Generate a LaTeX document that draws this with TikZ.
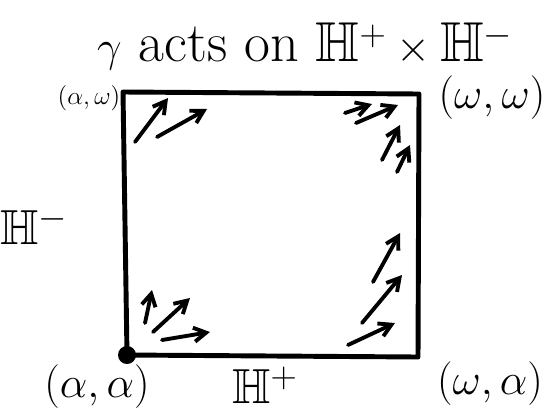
\documentclass[tikz,border=0pt]{standalone}
\usepackage{amsmath,amssymb}
\usepackage{tikz}
\usetikzlibrary{arrows.meta,positioning}

\begin{document}
\begin{tikzpicture}[x=0.02cm, y=-0.02cm, >={Straight Barb[length=7pt,width=8pt]},
    side/.style={line width=2.8pt, line join=round},
    flow/.style={->, line width=2.2pt, line cap=round},
    lbl/.style={font=\fontsize{24}{28}\selectfont, inner sep=0pt}]

  \useasboundingbox (0,0) rectangle (560,419);

  % Esquinas del cuadrado
  \coordinate (aw) at (123,92);
  \coordinate (ww) at (419,94);
  \coordinate (wa) at (418,357);
  \coordinate (aa) at (127,355);

  \draw[side] (aa) -- (aw) -- (ww) -- (wa) -- cycle;
  \fill (aa) circle (9);

  % Titulo y etiquetas
  \node[font=\fontsize{32}{38}\selectfont, inner sep=0pt] (title) at (305,46) {$\gamma$ acts on $\mathbb{H}^+ \times \mathbb{H}^-$};
  \node[lbl, font=\fontsize{15}{18}\selectfont] (law) at (89,98) {$(\alpha,\omega)$};
  \node[lbl] (lww) at (492,98) {$(\omega,\omega)$};
  \node[lbl] (laa) at (97,387) {$(\alpha,\alpha)$};
  \node[lbl] (lwa) at (490,384) {$(\omega,\alpha)$};
  \node[lbl, font=\fontsize{28}{32}\selectfont] (hp) at (265,385) {$\mathbb{H}^+$};
  \node[lbl, font=\fontsize{28}{32}\selectfont] (hm) at (34,226) {$\mathbb{H}^-$};

  % Flechas cerca de las esquinas
  \foreach \xa/\ya/\xb/\yb in {135/142/168/98, 157/137/207/109,
                     345/113/372/104, 356/123/398/105, 382/160/400/125, 397/172/410/145,
                     145/323/152/290, 153/332/190/298, 162/340/210/332,
                     373/282/400/233, 362/323/402/275, 348/345/395/323}
    \draw[flow] (\xa,\ya) -- (\xb,\yb);

\end{tikzpicture}
\end{document}
